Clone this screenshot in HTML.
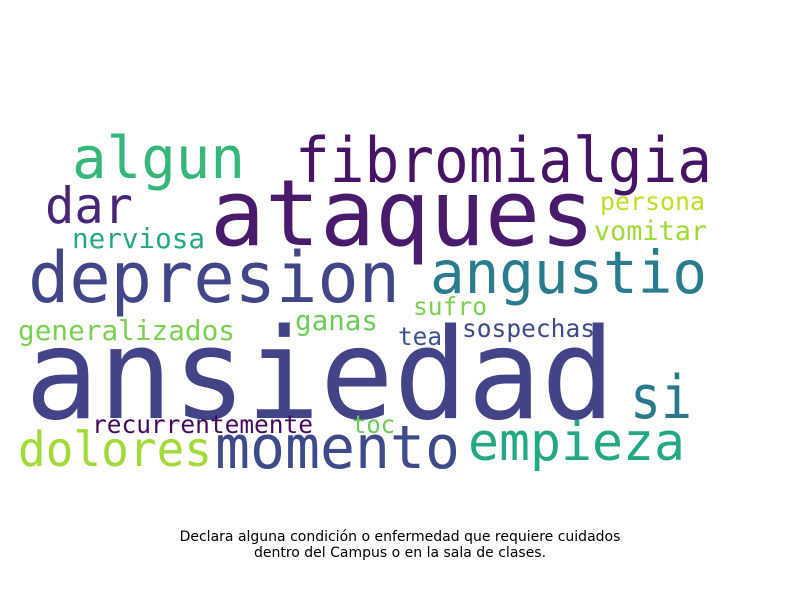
<!DOCTYPE html>
<html>
<head>
<meta charset="utf-8">
<style>
html,body{margin:0;padding:0;background:#fff;}
svg{display:block;}
text{font-family:"DejaVu Sans Mono","Liberation Mono",monospace;}
.cap{font-family:"DejaVu Sans","Liberation Sans",sans-serif;}
</style>
</head>
<body>
<svg id="cloud" width="800" height="600" viewBox="0 0 800 600" xmlns="http://www.w3.org/2000/svg">
<rect width="800" height="600" fill="#ffffff"/>
<g id="words"></g>
<text class="cap" x="400" y="541" text-anchor="middle" font-size="14" fill="#000">Declara alguna condición o enfermedad que requiere cuidados</text>
<text class="cap" x="400" y="557" text-anchor="middle" font-size="14" fill="#000">dentro del Campus o en la sala de clases.</text>
</svg>
<script>
const words = ["ansiedad","ataques","fibromialgia","algun","dar","depresion","angustio","persona","vomitar","nerviosa","sufro","generalizados","ganas","tea","sospechas","si","recurrentemente","toc","dolores","momento","empieza"];
const fontSizes = [126,92,62,58,50,70,59,25,27,28,25,28,28,25,25,60,25,25,48,60,53];
const colors = ["#414487","#4a1a6d","#471366","#35b779","#482677","#404688","#297b8e","#bddf26","#a0da39","#25a784","#7ad151","#7ad151","#6ccd5a","#3b528b","#3e4989","#2a788e","#46085c","#6ccd5a","#a2da37","#3e4a89","#22a884"];
const layoutX = [25,210,295,72,45,28,430,600,594,72,413,18,295,398,462,630,92,352,18,215,468];
const layoutY = [418,245,182,178,223,302,293,210,240,248,315,340,330,345,337,418,433,433,466,468,460];
const layoutW = [590,385,417,173,88,372,277,105,113,133,74,217,83,44,133,62,221,43,194,245,217];
const g = document.getElementById('words');
const NS = "http://www.w3.org/2000/svg";
for (let i = 0; i < words.length; i++) {
  const t = document.createElementNS(NS, 'text');
  t.setAttribute('x', layoutX[i]);
  t.setAttribute('y', layoutY[i]);
  t.setAttribute('font-size', fontSizes[i]);
  t.setAttribute('fill', colors[i]);
  t.setAttribute('textLength', layoutW[i]);
  t.setAttribute('lengthAdjust', 'spacingAndGlyphs');
  
  
  t.textContent = words[i];
  g.appendChild(t);
}
</script>
</body>
</html>
